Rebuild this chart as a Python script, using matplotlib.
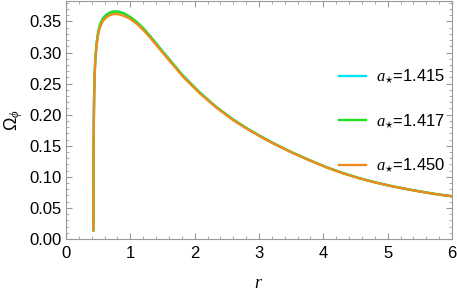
import matplotlib
matplotlib.use('Agg')
import matplotlib.pyplot as plt
from matplotlib.ticker import MultipleLocator

plt.rcParams['font.family'] = ['Liberation Sans', 'DejaVu Sans']
plt.rcParams['mathtext.fontset'] = 'custom'
plt.rcParams['mathtext.it'] = 'Liberation Serif:italic'
plt.rcParams['mathtext.rm'] = 'Liberation Sans'

# Значения
r_vals = [0.425, 0.428, 0.432, 0.437, 0.445, 0.455, 0.467, 0.48, 0.50, 0.53, 0.57, 0.62,
          0.67, 0.72, 0.76, 0.82, 0.90, 1.00, 1.10, 1.20, 1.31, 1.46, 1.60, 1.82, 2.08,
          2.34, 2.60, 2.86, 3.02, 3.17, 3.35, 3.53, 3.80, 4.05, 4.30, 4.57, 4.83, 5.09,
          5.35, 5.61, 5.80, 6.00]
omega_1415 = [0.014, 0.120, 0.185, 0.230, 0.265, 0.288, 0.305, 0.318, 0.333, 0.345, 0.354, 0.360,
              0.3635, 0.3655, 0.366, 0.3655, 0.363, 0.357, 0.349, 0.339, 0.326, 0.307, 0.2895, 0.2625,
              0.2355, 0.212, 0.192, 0.175, 0.1655, 0.157, 0.1475, 0.1385, 0.1262, 0.1155, 0.1062,
              0.0975, 0.0905, 0.0845, 0.0793, 0.0746, 0.0715, 0.0688]
omega_1417 = omega_1415
omega_1450 = [0.014, 0.118, 0.183, 0.228, 0.262, 0.285, 0.302, 0.315, 0.329, 0.341, 0.350, 0.356,
              0.3595, 0.3615, 0.362, 0.3615, 0.359, 0.354, 0.3462, 0.3365, 0.3238, 0.305, 0.2878, 0.261,
              0.2343, 0.211, 0.1911, 0.1742, 0.1648, 0.1564, 0.147, 0.138, 0.1258, 0.1151, 0.1059,
              0.0972, 0.0902, 0.0843, 0.0791, 0.0744, 0.0713, 0.0686]

labels = [r'$a_{\star}$=1.415', r'$a_{\star}$=1.417', r'$a_{\star}$=1.450']
colors = ['#00e5f0', '#22e01a', '#f08a1c']

fig = plt.figure(figsize=(4.57, 2.92), dpi=100)
ax = fig.add_axes([66 / 457, 1 - 239 / 292, 386 / 457, 238.5 / 292])

for y, lab, c in zip([omega_1415, omega_1417, omega_1450], labels, colors):
    ax.plot(r_vals, y, color=c, linewidth=1.7, label=lab, solid_joinstyle='round')

ax.set_xlim(0, 6)
ax.set_ylim(0, 0.3837)
ax.xaxis.set_major_locator(MultipleLocator(1))
ax.xaxis.set_minor_locator(MultipleLocator(0.2))
ax.yaxis.set_major_locator(MultipleLocator(0.05))
ax.yaxis.set_minor_locator(MultipleLocator(0.01))
ax.yaxis.set_major_formatter(plt.FormatStrFormatter('%.2f'))

for s in ax.spines.values():
    s.set_color('#999999')
    s.set_linewidth(0.8)
ax.tick_params(which='both', direction='in', top=True, right=True, color='#999999',
               labelsize=12, labelcolor='black')
ax.tick_params(which='major', length=4, width=0.8, pad=3)
ax.tick_params(which='minor', length=2, width=0.6)
ax.tick_params(axis='x', which='major', pad=5)

ax.set_xlabel(r'$r$', fontsize=13, labelpad=10)
ax.set_ylabel(r'$\Omega_{\phi}$', fontsize=13, labelpad=3)

leg = ax.legend(loc='upper left', bbox_to_anchor=(0.69, 0.745), frameon=False, fontsize=12,
                handlelength=1.6, labelspacing=1.6, handletextpad=0.6, borderaxespad=0)

fig.savefig('out.png', dpi=100)
